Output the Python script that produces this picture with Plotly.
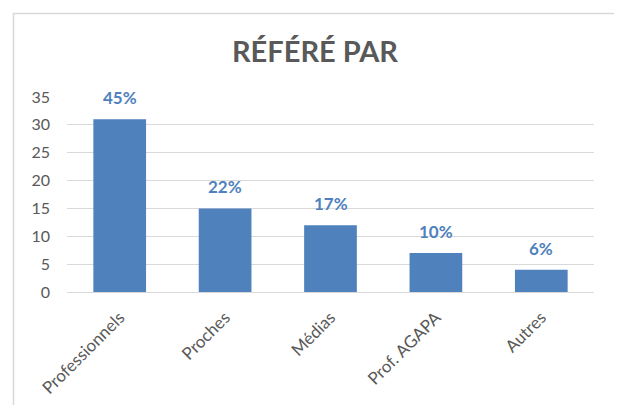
import plotly.graph_objects as go

categories = ["Professionnels", "Proches", "Médias", "Prof. AGAPA", "Autres"]
counts = [31, 15, 12, 7, 4]
pct_labels = ["45%", "22%", "17%", "10%", "6%"]
y_ticks = [0, 5, 10, 15, 20, 25, 30, 35]

# page body has an 8px default margin: size figure so it fits the 622x405 window
OFF = 8
W, H = 622 - OFF, 405 - OFF
ML, MR, MT, MB = 67 - OFF, 28, 97 - OFF, 113
BAR = "#4F81BD"
GREY = "#595959"
FONT = "Lato, 'Open Sans', sans-serif"

fig = go.Figure()
fig.add_trace(go.Bar(x=categories, y=counts, marker=dict(color=BAR, line=dict(width=0)),
                     hoverinfo="skip"))

for c, v, t in zip(categories, counts, pct_labels):
    fig.add_annotation(x=c, y=v, text=f"<b>{t}</b>", showarrow=False, yanchor="bottom",
                       yshift=9, font=dict(family=FONT, size=17, color=BAR))

pw = W - ML - MR
ph = H - MT - MB


def px_x(x):
    return (x - OFF - ML) / pw


def px_y(y):
    return (H - MB - (y - OFF)) / ph


fig.add_shape(type="rect", xref="paper", yref="paper",
              x0=px_x(13.5), x1=px_x(617.5), y0=px_y(430), y1=px_y(13.5),
              line=dict(color="#D9D9D9", width=1.5), layer="below")

fig.update_layout(
    width=W, height=H,
    margin=dict(l=ML, r=MR, t=MT, b=MB, autoexpand=False),
    paper_bgcolor="white", plot_bgcolor="white",
    bargap=0.5,
    showlegend=False,
    title=dict(text="<b>RÉFÉRÉ PAR</b>", x=0.5 * (W + OFF) / W - 0.5 * OFF / W, xref="container",
               xanchor="center", y=1 - (52 - OFF) / H, yref="container", yanchor="middle",
               font=dict(family=FONT, size=29, color=GREY)),
    font=dict(family=FONT, color=GREY),
)
fig.update_yaxes(range=[0, 35], tickvals=y_ticks, showgrid=True, gridcolor="#D9D9D9",
                 gridwidth=1, zeroline=False, showline=False,
                 tickfont=dict(family=FONT, size=16, color=GREY), ticklabelstandoff=16)
fig.update_xaxes(showline=True, linecolor="#D9D9D9", linewidth=1, tickangle=-45,
                 tickfont=dict(family=FONT, size=17, color=GREY), ticklabelstandoff=8)

fig.write_html("out.html")
